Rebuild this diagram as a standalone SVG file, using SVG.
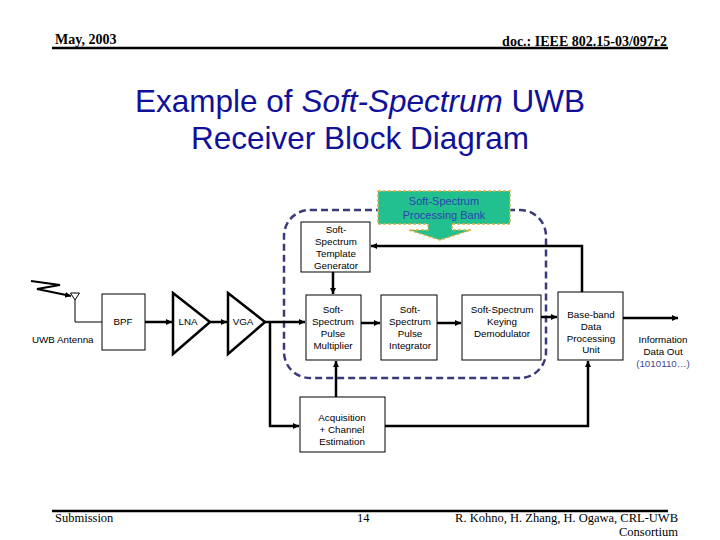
<svg xmlns="http://www.w3.org/2000/svg" width="720" height="540" viewBox="0 0 720 540">
<style>
.hdr{font-family:"Liberation Serif",serif;font-size:14px;font-weight:bold;fill:#000}
.ftr{font-family:"Liberation Serif",serif;font-size:12.5px;fill:#000}
.title{font-family:"Liberation Sans",Arial,sans-serif;font-size:31.5px;fill:#10109A}
.box{fill:#fff;stroke:#000;stroke-width:1}
.tri{fill:#fff;stroke:#000;stroke-width:2.5;stroke-linejoin:miter}
.lbl{font-family:"Liberation Sans",Arial,sans-serif;font-size:9.8px;fill:#000;text-anchor:middle}
.wire{fill:none;stroke:#000;stroke-width:2.5}
.thin{fill:none;stroke:#000;stroke-width:1}
</style>
<defs>
<marker id="ah" markerUnits="userSpaceOnUse" markerWidth="8" markerHeight="8" refX="6" refY="3" orient="auto">
<path d="M0,0 L6,3 L0,6 z" fill="#000"/>
</marker>
</defs>
<rect width="720" height="540" fill="#fff"/>

<g id="header">
<text class="hdr" x="55" y="44">May, 2003</text>
<text class="hdr" x="667" y="46" text-anchor="end">doc.: IEEE 802.15-03/097r2</text>
<line x1="52" y1="48" x2="668" y2="48" stroke="#000" stroke-width="2.5"/>
</g>

<g id="title">
<text class="title" x="360" y="112" text-anchor="middle">Example of <tspan font-style="italic">Soft-Spectrum</tspan> UWB</text>
<text class="title" x="360" y="149" text-anchor="middle">Receiver Block Diagram</text>
</g>

<g id="processing-bank">
<rect x="284" y="210" width="262" height="168" rx="26" ry="26" fill="none" stroke="#3A3A7A" stroke-width="2.5" stroke-dasharray="7,4"/>
</g>

<g id="callout">
<path d="M378,191 H510 V224 H452 V230 H471 L440,240 L409,230 H428 V224 H378 Z" fill="#22C08F" stroke="#D8B048" stroke-width="1.5" stroke-dasharray="3,2"/>
<text x="444" y="205" font-family="Liberation Sans,Arial,sans-serif" font-size="11px" fill="#2A44B0" text-anchor="middle">Soft-Spectrum</text>
<text x="444" y="219" font-family="Liberation Sans,Arial,sans-serif" font-size="11px" fill="#2A44B0" text-anchor="middle">Processing Bank</text>
</g>

<g id="connectors">
<polyline points="31,281 60,285 37,289 71,296" fill="none" stroke="#000" stroke-width="2" marker-end="url(#ah)"/>
<polyline class="thin" points="75,300 75,322 102,322"/>
<line class="wire" x1="145" y1="322" x2="172" y2="322" marker-end="url(#ah)"/>
<line class="wire" x1="210" y1="322" x2="227" y2="322" marker-end="url(#ah)"/>
<line class="wire" x1="265" y1="322" x2="305" y2="322" marker-end="url(#ah)"/>
<polyline class="wire" points="270,322 270,426 299,426" marker-end="url(#ah)"/>
<line class="wire" x1="333" y1="272" x2="333" y2="294" marker-end="url(#ah)"/>
<line class="wire" x1="336" y1="397" x2="336" y2="361" marker-end="url(#ah)"/>
<line class="wire" x1="361" y1="323" x2="380" y2="323" marker-end="url(#ah)"/>
<line class="wire" x1="437" y1="323" x2="461" y2="323" marker-end="url(#ah)"/>
<line class="wire" x1="541" y1="317" x2="557" y2="317" marker-end="url(#ah)"/>
<polyline class="wire" points="582,292 582,246 371,246" marker-end="url(#ah)"/>
<polyline class="wire" points="385,426 588,426 588,361" marker-end="url(#ah)"/>
<line class="wire" x1="623" y1="318" x2="678" y2="318" marker-end="url(#ah)"/>
</g>

<g id="antenna">
<polygon points="70.5,293 79.5,293 75,300" fill="#fff" stroke="#000" stroke-width="1"/>
<text x="32" y="343" font-family="Liberation Sans,Arial,sans-serif" font-size="9.8px" fill="#000">UWB Antenna</text>
</g>

<g id="bpf">
<rect class="box" x="102" y="294" width="43" height="56"/>
<text class="lbl" x="123" y="325">BPF</text>
</g>

<g id="lna">
<polygon class="tri" points="173,293 210,322 173,354"/>
<text class="lbl" x="188" y="325">LNA</text>
</g>

<g id="vga">
<polygon class="tri" points="228,293 265,322 228,354"/>
<text class="lbl" x="243" y="325">VGA</text>
</g>

<g id="template-generator">
<rect class="box" x="301" y="222" width="69" height="50"/>
<text class="lbl" x="336" y="233">Soft-</text>
<text class="lbl" x="336" y="245">Spectrum</text>
<text class="lbl" x="336" y="257">Template</text>
<text class="lbl" x="336" y="269">Generator</text>
</g>

<g id="pulse-multiplier">
<rect class="box" x="306" y="295" width="55" height="65"/>
<text class="lbl" x="333" y="313">Soft-</text>
<text class="lbl" x="333" y="325">Spectrum</text>
<text class="lbl" x="333" y="337">Pulse</text>
<text class="lbl" x="333" y="349">Multiplier</text>
</g>

<g id="pulse-integrator">
<rect class="box" x="381" y="295" width="56" height="65"/>
<text class="lbl" x="410" y="313">Soft-</text>
<text class="lbl" x="410" y="325">Spectrum</text>
<text class="lbl" x="410" y="337">Pulse</text>
<text class="lbl" x="410" y="349">Integrator</text>
</g>

<g id="keying-demodulator">
<rect class="box" x="462" y="295" width="79" height="65"/>
<text class="lbl" x="502" y="313">Soft-Spectrum</text>
<text class="lbl" x="502" y="325">Keying</text>
<text class="lbl" x="502" y="337">Demodulator</text>
</g>

<g id="baseband-unit">
<rect class="box" x="558" y="292" width="65" height="68"/>
<text class="lbl" x="591" y="318">Base-band</text>
<text class="lbl" x="591" y="330">Data</text>
<text class="lbl" x="591" y="342">Processing</text>
<text class="lbl" x="591" y="353">Unit</text>
</g>

<g id="data-out">
<text class="lbl" x="663" y="343">Information</text>
<text class="lbl" x="663" y="355">Data Out</text>
<text class="lbl" x="663" y="367" style="fill:#3C4C90">(1010110…)</text>
</g>

<g id="acquisition">
<rect class="box" x="300" y="397" width="85" height="55"/>
<text class="lbl" x="342" y="421">Acquisition</text>
<text class="lbl" x="342" y="433">+ Channel</text>
<text class="lbl" x="342" y="445">Estimation</text>
</g>

<g id="footer">
<line x1="52" y1="511" x2="668" y2="511" stroke="#000" stroke-width="2.5"/>
<text class="ftr" x="55" y="522">Submission</text>
<text class="ftr" x="357" y="522">14</text>
<text class="ftr" x="678" y="522" text-anchor="end">R. Kohno, H. Zhang, H. Ogawa, CRL-UWB</text>
<text class="ftr" x="678" y="536" text-anchor="end">Consortium</text>
</g>
</svg>
